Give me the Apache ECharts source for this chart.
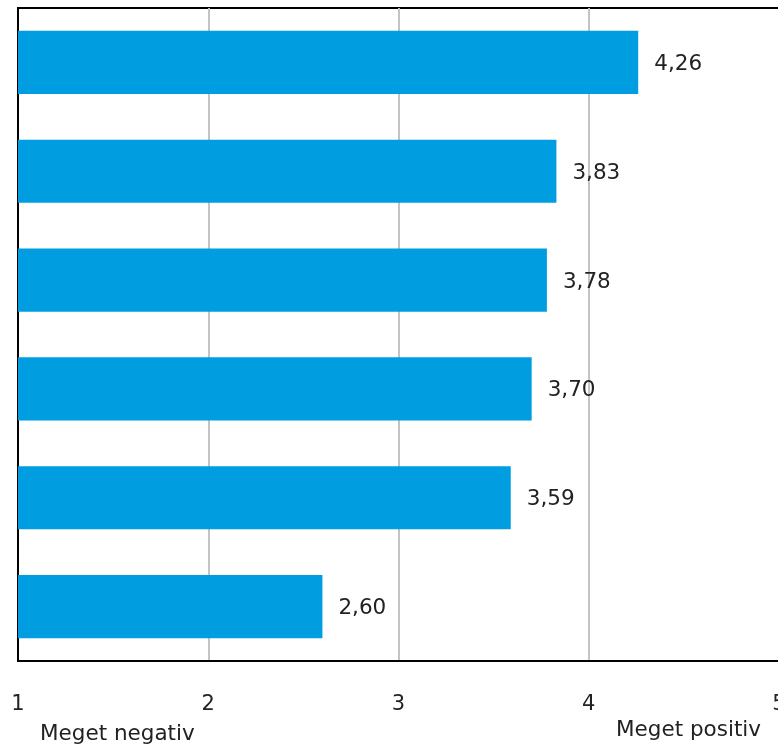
<!DOCTYPE html>
<html><head><meta charset="utf-8">
<style>html,body{margin:0;padding:0;background:#fff;}#c{width:778px;height:745px;}</style>
<script src="https://cdn.jsdelivr.net/npm/echarts@6/dist/echarts.min.js"></script>
</head><body><div id="c"></div>
<script>
const categories = ["K1","K2","K3","K4","K5","K6"];
const values = [4.26, 3.83, 3.78, 3.70, 3.59, 2.60];
const xTicks = [1, 2, 3, 4, 5];
const scaleLabels = ["Meget negativ", "Meget positiv"];

const chart = echarts.init(document.getElementById('c'), null, {renderer:'canvas'});
const font = 'DejaVu Sans, Verdana, sans-serif';
chart.setOption({
  animation: false,
  grid: {left: 18, top: 8, right: -1, bottom: 84, show: true, borderColor: '#000', borderWidth: 2,
         backgroundColor: 'transparent', outerBoundsMode: 'none', containLabel: false},
  xAxis: {
    type: 'value', min: xTicks[0], max: xTicks[xTicks.length-1], interval: 1,
    axisLine: {show: true, lineStyle: {color: '#000', width: 2}},
    axisTick: {show: false},
    splitLine: {show: true, lineStyle: {color: '#c4c4c4', width: 2}},
    axisLabel: {color: '#222', fontSize: 21, fontFamily: font, margin: 33, formatter: v => String(v)}
  },
  yAxis: {
    type: 'category', data: categories, inverse: true,
    axisLine: {show: true, lineStyle: {color: '#000', width: 2}},
    axisTick: {show: false}, axisLabel: {show: false}, splitLine: {show: false}
  },
  series: [{
    type: 'bar', data: values, barWidth: '58%',
    itemStyle: {color: '#009de0'},
    label: {show: true, position: 'right', distance: 16, offset: [0, 2], color: '#222', fontSize: 21.5, fontFamily: font,
      formatter: p => p.value.toFixed(2).replace('.', ',')}
  }],
  graphic: [
    {type: 'text', left: 40, top: 723, style: {text: scaleLabels[0], fill: '#222', fontSize: 21.5, fontFamily: font}},
    {type: 'text', left: 616, top: 719, style: {text: scaleLabels[1], fill: '#222', fontSize: 21.5, fontFamily: font}}
  ]
});
</script></body></html>
